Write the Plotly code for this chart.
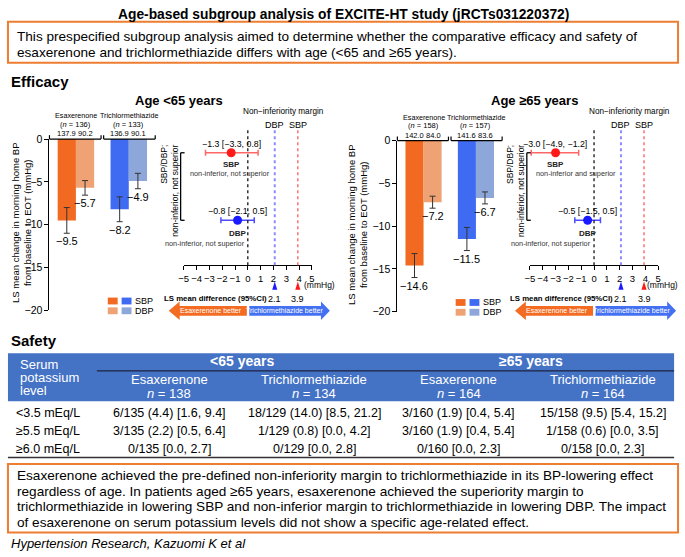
import plotly.graph_objects as go

W, H = 685, 557
FONT = "Liberation Sans, Arial, sans-serif"

# ---------------- data ----------------
drugs = ["Esaxerenone", "Trichlormethiazide"]

young_n = [136, 133]
young_base_sbp = [137.9, 136.9]
young_base_dbp = [90.2, 90.1]
young_sbp = [-9.5, -8.2]
young_dbp = [-5.7, -4.9]
young_sbp_err = [1.5, 1.45]
young_dbp_err = [0.85, 0.9]

old_n = [158, 157]
old_base_sbp = [142.0, 141.6]
old_base_dbp = [84.0, 83.6]
old_sbp = [-14.6, -11.5]
old_dbp = [-7.2, -6.7]
old_sbp_err = [1.4, 1.35]
old_dbp_err = [0.7, 0.7]

# LS mean difference: estimate, lower, upper
young_diff_sbp = [-1.3, -3.3, 0.8]
young_diff_dbp = [-0.8, -2.1, 0.5]
old_diff_sbp = [-3.0, -4.9, -1.2]
old_diff_dbp = [-0.5, -1.5, 0.5]
young_verdict = ["non-inferior, not superior", "non-inferior, not superior"]
old_verdict = ["non-inferior and superior", "non-inferior, not superior"]
margin_dbp = 2.1
margin_sbp = 3.9

bp_ticks = [0, -5, -10, -15, -20]
diff_ticks = [-5, -4, -3, -2, -1, 0, 1, 2, 3, 4, 5]

# safety table
k_levels = ["<3.5 mEq/L", "≥5.5 mEq/L", "≥6.0 mEq/L"]
k_groups = ["<65 years", "≥65 years"]
k_arms = ["Esaxerenone", "Trichlormethiazide", "Esaxerenone", "Trichlormethiazide"]
k_n = [138, 134, 164, 164]
k_cells = [
    ["6/135 (4.4) [1.6, 9.4]", "18/129 (14.0) [8.5, 21.2]", "3/160 (1.9) [0.4, 5.4]", "15/158 (9.5) [5.4, 15.2]"],
    ["3/135 (2.2) [0.5, 6.4]", "1/129 (0.8) [0.0, 4.2]", "3/160 (1.9) [0.4, 5.4]", "1/158 (0.6) [0.0, 3.5]"],
    ["0/135 [0.0, 2.7]", "0/129 [0.0, 2.8]", "0/160 [0.0, 2.3]", "0/158 [0.0, 2.3]"],
]

title = "Age-based subgroup analysis of EXCITE-HT study (jRCTs031220372)"
aim_lines = [
    "This prespecified subgroup analysis aimed to determine whether the comparative efficacy and safety of",
    "esaxerenone and trichlormethiazide differs with age (<65 and ≥65 years).",
]
concl_lines = [
    "Esaxerenone achieved the pre-defined non-inferiority margin to trichlormethiazide in its BP-lowering effect",
    "regardless of age. In patients aged ≥65 years, esaxerenone achieved the superiority margin to",
    "trichlormethiazide in lowering SBP and non-inferior margin to trichlormethiazide in lowering DBP. The impact",
    "of esaxerenone on serum potassium levels did not show a specific age-related effect.",
]
citation = "Hypertension Research, Kazuomi K et al"

# ---------------- colours ----------------
ORANGE = "#F26A21"
ORANGE_L = "#EFA274"
BLUE = "#3F6BF3"
BLUE_L = "#8EA7DA"
RED = "#FF1A1A"
RED_L = "#FF6666"
PURPLE = "#1A1AFF"
PURPLE_L = "#4D4DFF"
BOX = "#ED7D31"
TABLE = "#4472C4"
U = 12.97  # px per mmHg on the difference axes


def px(x):
    return x / W


def py(y):
    return 1 - y / H


def mstr(v):
    return f"{v:.1f}".replace("-", "\u2212")


fig = go.Figure()
anns = []
shapes = []
layout_axes = {}


def note(s, x, y, size, color="black", xa="center", ya="middle", **kw):
    anns.append(dict(text=s, x=px(x), y=py(y), xref="paper", yref="paper", showarrow=False,
                     font=dict(size=size, color=color, family=FONT), xanchor=xa, yanchor=ya, **kw))


def dnote(s, x, xref, y, size, color="black", yref="paper", ya="middle", **kw):
    anns.append(dict(text=s, x=x, xref=xref, y=py(y) if yref == "paper" else y, yref=yref,
                     showarrow=False, xanchor="center", yanchor=ya,
                     font=dict(size=size, color=color, family=FONT), **kw))


def rect(x0, y0, x1, y1, **kw):
    shapes.append(dict(type="rect", xref="paper", yref="paper", x0=px(x0), x1=px(x1),
                       y0=py(y1), y1=py(y0), **kw))


def seg(x0, y0, x1, y1, color="black", width=1, dash="solid"):
    shapes.append(dict(type="line", xref="paper", yref="paper", x0=px(x0), x1=px(x1),
                       y0=py(y0), y1=py(y1), line=dict(color=color, width=width, dash=dash)))


def poly(pts, color):
    path = "M " + " L ".join(f"{px(a)},{py(b)}" for a, b in pts) + " Z"
    shapes.append(dict(type="path", xref="paper", yref="paper", path=path,
                       fillcolor=color, line=dict(width=0)))


def bar_panel(k, ax0, ax1, top, bottom, n, base_sbp, base_dbp, sbp, dbp, sbp_err, dbp_err, title_x):
    xa = "x" if k == 1 else f"x{k}"
    ya = "y" if k == 1 else f"y{k}"
    layout_axes["xaxis" if k == 1 else f"xaxis{k}"] = dict(
        domain=[px(ax0), px(ax1)], range=[-0.5, 1.5], anchor=ya, visible=False)
    layout_axes["yaxis" if k == 1 else f"yaxis{k}"] = dict(
        domain=[py(bottom), py(top)], range=[-20, 0], anchor=xa, tickvals=bp_ticks,
        ticks="outside", ticklen=4, tickwidth=1, tickcolor="black", showline=True,
        linecolor="black", linewidth=1, showgrid=False, zeroline=False,
        tickfont=dict(size=10.5, family=FONT, color="black"))
    fig.add_trace(go.Bar(x=drugs, y=sbp, marker=dict(color=[ORANGE, BLUE], line=dict(width=0)),
                         error_y=dict(type="data", array=sbp_err, color="#333", thickness=1, width=3),
                         xaxis=xa, yaxis=ya, name="SBP"))
    fig.add_trace(go.Bar(x=drugs, y=dbp, marker=dict(color=[ORANGE_L, BLUE_L], line=dict(width=0)),
                         error_y=dict(type="data", array=dbp_err, color="#333", thickness=1, width=3),
                         xaxis=xa, yaxis=ya, name="DBP"))
    for i, d in enumerate(drugs):
        dnote(d, d, xa, top - 24, 7.2)
        dnote(f"(<i>n</i> = {n[i]})", d, xa, top - 15, 7.5)
        for v, sh in [(base_sbp[i], -9), (base_dbp[i], 9.5)]:
            dnote(f"{v:.1f}", d, xa, top - 5.5, 7.5, xshift=sh)
        for v, e, sh in [(sbp[i], sbp_err[i], -9.25), (dbp[i], dbp_err[i], 9.25)]:
            dnote(mstr(v), d, xa, v - e, 11, yref=ya, ya="top", xshift=sh)
    mid = (ax0 + ax1) / 2
    for a, b in [(ax0, mid - 1.3), (mid + 1.3, ax1)]:
        seg(a, top, b, top, width=1.2)
        seg(a, top, a, top - 4, width=1.2)
        seg(b, top, b, top - 4, width=1.2)
    # legend
    for j, (name, cols) in enumerate([("SBP", [ORANGE, BLUE]), ("DBP", [ORANGE_L, BLUE_L])]):
        yy = bottom - 13 + j * 10
        rect(ax0 + 59, yy, ax0 + 69, yy + 7, fillcolor=cols[0], line=dict(width=0))
        rect(ax0 + 73, yy, ax0 + 83, yy + 7, fillcolor=cols[1], line=dict(width=0))
        note(name, ax0 + 85, yy + 3.5, 9, xa="left")
    note("LS mean change in morning home BP<br>from baseline to EOT (mmHg)", title_x,
         (top + bottom) / 2 - 2, 9.5, textangle=-90)


def forest_panel(k, zero, d_sbp, d_dbp, verdict, unit_dx):
    xa, ya = f"x{k}", f"y{k}"
    layout_axes[f"xaxis{k}"] = dict(
        domain=[px(zero - 5 * U), px(zero + 5 * U)], range=[-5, 5], anchor=ya,
        tickvals=diff_ticks, ticks="outside", ticklen=4, tickwidth=1.2, tickcolor="black",
        tickangle=0, showline=True, linecolor="black", linewidth=1.4, showgrid=False,
        zeroline=False, tickfont=dict(size=9.5, family=FONT, color="black"))
    layout_axes[f"yaxis{k}"] = dict(domain=[py(265), py(122)], range=[-0.667, 1.406],
                                    anchor=xa, visible=False)
    # reference lines
    for xv, col, wd in [(0, "black", 1.2), (margin_dbp, "#8C8CFF", 2), (margin_sbp, "#FF5A5A", 1.3)]:
        shapes.append(dict(type="line", xref=xa, yref="paper", x0=xv, x1=xv, y0=py(265), y1=py(127),
                           line=dict(color=col, width=wd, dash="dot")))
    rows = [(1, d_sbp, RED, RED_L, "SBP", 140.7, 161.5, 171, zero + 24),
            (0, d_dbp, PURPLE, PURPLE_L, "DBP", 210, 233, 243, zero - 1)]
    for j, (yv, d, col, col_l, name, ly, ny, vy, vx) in enumerate(rows):
        est, lo, hi = d
        fig.add_trace(go.Scatter(x=[est], y=[yv], mode="markers", xaxis=xa, yaxis=ya,
                                 marker=dict(size=9, color=col),
                                 error_x=dict(type="data", symmetric=False, array=[hi - est],
                                              arrayminus=[est - lo], color=col_l, thickness=1.5, width=3)))
        dnote(f"{mstr(est)} [{mstr(lo)}, {mstr(hi)}]", (lo + hi) / 2, xa, ly, 8.8)
        dnote(f"<b>{name}</b>", est, xa, ny, 8, color="#222")
        note(verdict[j], vx, vy, 7.3, color="#333", xa="right")
    for m, name, col in [(margin_dbp, "DBP", "#1A1AFF"), (margin_sbp, "SBP", "#FF1A1A")]:
        dnote(name, m, xa, 121.5, 9)
        dnote(f"{m:.1f}", m, xa, 299, 9)
        shapes.append(dict(type="path", xref=xa, yref="paper", fillcolor=col, line=dict(width=0),
                           path=f"M {m - 0.2},{py(290)} L {m + 0.2},{py(290)} L {m},{py(281.5)} Z"))
    note("Non\u2212inferiority margin", zero + 36, 108, 8.2)
    note("(mmHg)", zero + unit_dx, 285.5, 8.5)
    note("<b>LS mean difference (95%CI)</b>", zero - 33, 298.5, 7.8)
    # arrows
    poly([(zero - 80, 311.5), (zero - 69, 302), (zero - 69, 306.5), (zero - 1, 306.5),
          (zero - 1, 316.5), (zero - 69, 316.5), (zero - 69, 321)], "#F36C22")
    poly([(zero + 83, 311.5), (zero + 74, 302), (zero + 74, 306.5), (zero + 1.5, 306.5),
          (zero + 1.5, 316.5), (zero + 74, 316.5), (zero + 74, 321)], "#4471F2")
    note("Esaxerenone better", zero - 37, 311.5, 7, color="white")
    note("Trichlormethiazide better", zero + 37.5, 311.5, 7, color="white")
    # bracket
    bx = zero - 68
    seg(bx, 150, bx, 219, width=1.3)
    seg(bx, 150, bx + 4, 150, width=1.3)
    seg(bx, 219, bx + 4, 219, width=1.3)
    note("SBP/DBP;<br>non-inferior, not superior", zero - 79, 140, 8.5, ya="top",
         textangle=-90, align="right")


# ---------------- header ----------------
note(f"<b>{title}</b>", 342.5, 8.5, 13.8)
rect(3, 16, 681, 58, line=dict(color=BOX, width=2), fillcolor="rgba(0,0,0,0)")
for i, s in enumerate(aim_lines):
    note(s, 10, 31 + 16.5 * i, 13.6, xa="left")
note("<b>Efficacy</b>", 4, 77, 15, xa="left")
note("<b>Age <65 years</b>", 176, 97, 13)
note("<b>Age ≥65 years</b>", 536, 97, 13)

bar_panel(1, 45, 152, 136, 311, young_n, young_base_sbp, young_base_dbp,
          young_sbp, young_dbp, young_sbp_err, young_dbp_err, 16.5)
forest_panel(2, 245.7, young_diff_sbp, young_diff_dbp, young_verdict, 73)
bar_panel(3, 397, 503, 137.5, 312.5, old_n, old_base_sbp, old_base_dbp,
          old_sbp, old_dbp, old_sbp_err, old_dbp_err, 356)
forest_panel(4, 596, old_diff_sbp, old_diff_dbp, old_verdict, 69)

# ---------------- safety table ----------------
note("<b>Safety</b>", 4, 342, 15, xa="left")
rect(3, 355, 677, 404, fillcolor=TABLE, line=dict(width=0))
for i, s in enumerate(["Serum", "potassium", "level"]):
    note(s, 13, 366 + 13.7 * i, 13, color="white", xa="left")
col_x = [166, 313, 459, 605]
for g, s in enumerate(k_groups):
    note(f"<b>{s}</b>", (col_x[2 * g] + col_x[2 * g + 1]) / 2, 363, 14, color="white")
seg(93, 373, 677, 373, color="#1B2440", width=1.2)
for c, (arm, n) in enumerate(zip(k_arms, k_n)):
    note(arm, col_x[c], 382, 13, color="white")
    note(f"<i>n</i> = {n}", col_x[c], 396.5, 13, color="white")
for r, lev in enumerate(k_levels):
    yy = 415.5 + 18.8 * r
    note(lev, 9, yy, 12.5, xa="left")
    for c in range(4):
        note(k_cells[r][c], col_x[c], yy, 12.5)
seg(3, 461.5, 677, 461.5, color="#333", width=1.5)

# ---------------- conclusion ----------------
rect(3, 468, 681, 538, line=dict(color=BOX, width=2), fillcolor="rgba(0,0,0,0)")
for i, s in enumerate(concl_lines):
    note(s, 10, 480 + 16 * i, 13.6, xa="left")
note(f"<i>{citation}</i>", 4, 549.5, 13, xa="left")

fig.update_layout(
    width=W, height=H, autosize=False, margin=dict(l=0, r=0, t=0, b=0),
    paper_bgcolor="white", plot_bgcolor="white", showlegend=False,
    barmode="group", bargap=0.31, bargroupgap=0,
    font=dict(family=FONT, color="black"),
    annotations=anns, shapes=shapes, **layout_axes,
)
# drop the page's default 8px body margin so the figure sits at the window origin
fig.write_html("out.html", config={"displayModeBar": False},
               post_script="document.body.style.margin='0px';document.body.style.overflow='hidden';")
